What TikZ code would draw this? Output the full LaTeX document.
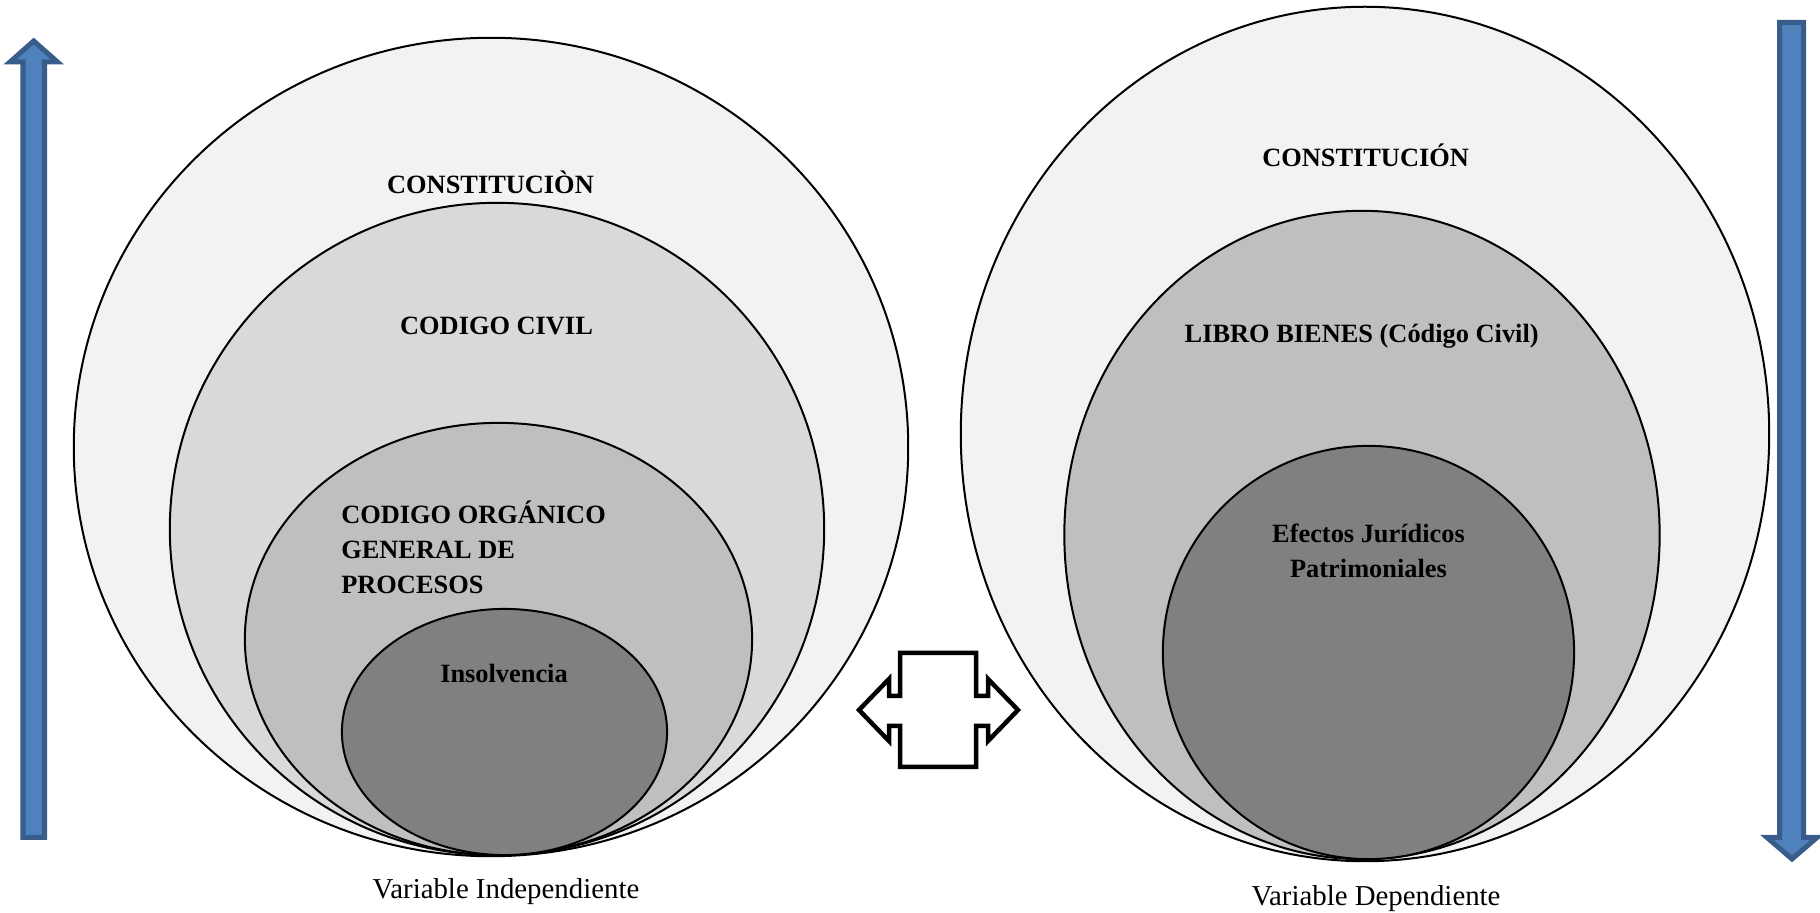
\documentclass[tikz,border=0pt]{standalone}
\usepackage{fontspec}
\setmainfont{Liberation Serif}
\usetikzlibrary{shapes.geometric}
\definecolor{arrowblue}{HTML}{4F81BD}
\definecolor{arrowedge}{HTML}{385D8A}
\tikzset{ring/.style={ellipse,draw=black,line width=0.02cm,inner sep=0pt}}
\tikzset{lawtext/.style={font=\fontsize{7.5}{9.96}\selectfont\bfseries,inner sep=0pt}}
\tikzset{vartext/.style={font=\fontsize{8.2}{10}\selectfont,inner sep=0pt}}
\tikzset{bluearrow/.style={fill=arrowblue,draw=arrowedge,line width=0.05cm,miter limit=10}}

\begin{document}
\begin{tikzpicture}[x=0.01cm,y=-0.01cm]
  \useasboundingbox (0,0) rectangle (1820,913);
  % draw the left circles
  \node[ring,fill=black!5,minimum width=8.34cm,minimum height=8.18cm] (lconst) at (491,447) {};
  \node[ring,fill=black!15,minimum width=6.54cm,minimum height=6.52cm] (lcivil) at (497,529) {};
  \node[ring,fill=black!25,minimum width=5.07cm,minimum height=4.32cm] (lcogep) at (498.5,639) {};
  \node[ring,fill=black!50,minimum width=3.25cm,minimum height=2.46cm] (linsol) at (504.5,732) {};
  \node[lawtext,anchor=base] (tconst) at (490.5,194) {CONSTITUCIÒN};
  \node[lawtext,anchor=base] (tcivil) at (496.5,335) {CODIGO CIVIL};
  \node[lawtext,anchor=west,align=left] (tcogep) at (340.6,547) {CODIGO ORGÁNICO\\GENERAL DE\\PROCESOS};
  \node[lawtext,anchor=base] (tinsol) at (504,683) {Insolvencia};
  \node[vartext,anchor=base] (tindep) at (506,899) {Variable Independiente};
  % draw the right circles
  \node[ring,fill=black!5,minimum width=8.08cm,minimum height=8.54cm] (rconst) at (1365,434) {};
  \node[ring,fill=black!25,minimum width=5.95cm,minimum height=6.48cm] (rbienes) at (1362,535) {};
  \node[ring,fill=black!50,minimum width=4.11cm,minimum height=4.13cm] (refect) at (1368.5,652.5) {};
  \node[lawtext,anchor=base] (tconstr) at (1365.6,167) {CONSTITUCIÓN};
  \node[lawtext,anchor=base] (tbienes) at (1361.7,343) {LIBRO BIENES (Código Civil)};
  \node[lawtext,align=center] (tefect) at (1368.5,551) {Efectos Jurídicos\\Patrimoniales};
  \node[vartext,anchor=base] (tdep) at (1376,906) {Variable Dependiente};
  % draw the blue arrows
  \draw[bluearrow] (23,837.5) -- (23,62) -- (10,62) -- (33.7,41) -- (57.5,62) -- (44.5,62) -- (44.5,837.5) -- cycle;
  \draw[bluearrow] (1779.5,22.5) -- (1779.5,837.5) -- (1767,837.5) -- (1792,859) -- (1817,837.5) -- (1803.5,837.5) -- (1803.5,22.5) -- cycle;
  % draw the double arrow
  \draw[line width=0.045cm,fill=white] (900,653) -- (976,653) -- (976,696) -- (988,696) -- (988,679)
    -- (1018,710) -- (988,741) -- (988,726) -- (976,726) -- (976,767) -- (900,767) -- (900,726)
    -- (889,726) -- (889,741) -- (859,710) -- (889,679) -- (889,696) -- (900,696) -- cycle;
\end{tikzpicture}
\end{document}
